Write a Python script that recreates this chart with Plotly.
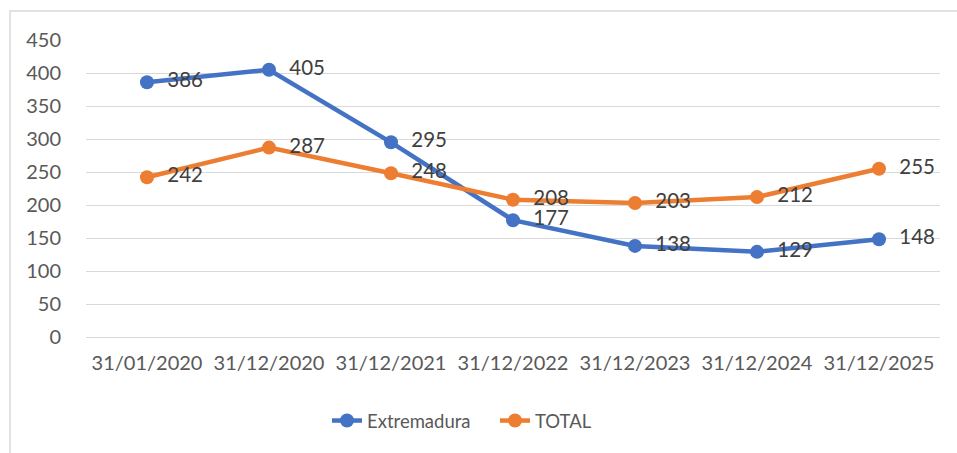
import plotly.graph_objects as go

categories = ["31/01/2020", "31/12/2020", "31/12/2021", "31/12/2022",
              "31/12/2023", "31/12/2024", "31/12/2025"]
extremadura = [386, 405, 295, 177, 138, 129, 148]
total = [242, 287, 248, 208, 203, 212, 255]
y_ticks = [0, 50, 100, 150, 200, 250, 300, 350, 400, 450]

BLUE = "#4472C4"
ORANGE = "#ED7D31"
FONT = "Lato, Carlito, Calibri, sans-serif"

fig = go.Figure()
for name, vals, col in [("Extremadura", extremadura, BLUE), ("TOTAL", total, ORANGE)]:
    fig.add_trace(go.Scatter(
        x=categories, y=vals, name=name, mode="lines+markers+text",
        line=dict(color=col, width=4.5),
        marker=dict(color=col, size=14),
        text=[f"  {v}" for v in vals], textposition="middle right",
        textfont=dict(family=FONT, size=20.5, color="#404040"),
        cliponaxis=False,
    ))

W, H = 957, 453
L, R, T, B = 86, 17, 40, 116
pw, ph = W - L - R, H - T - B

fig.add_shape(type="rect", xref="paper", yref="paper",
              x0=(10 - L) / pw, x1=2, y0=-2, y1=(H - B - 11) / ph,
              line=dict(color="#d9d9d9", width=1.5), layer="below")

fig.update_layout(
    width=W, height=H,
    margin=dict(l=L, r=R, t=T, b=B),
    paper_bgcolor="white", plot_bgcolor="white",
    font=dict(family=FONT, size=20, color="#595959"),
    showlegend=True,
    legend=dict(orientation="h", x=(495 - L) / pw, xanchor="center",
                y=-(421 - (H - B)) / ph, yanchor="middle",
                font=dict(size=18.5, color="#595959"),
                entrywidth=123, entrywidthmode="pixels",
                bgcolor="rgba(0,0,0,0)"),
    xaxis=dict(type="category", range=[-0.5, 6.5], showgrid=False,
               showline=False, ticks="outside", ticklen=8,
               tickcolor="rgba(0,0,0,0)",
               tickfont=dict(size=20, color="#595959")),
    yaxis=dict(range=[0, 450], tickvals=y_ticks, showgrid=True,
               gridcolor="#d9d9d9", gridwidth=1, zeroline=True,
               zerolinecolor="#d9d9d9", zerolinewidth=1, showline=False,
               ticks="outside", ticklen=20, tickcolor="rgba(0,0,0,0)",
               tickfont=dict(size=20, color="#595959")),
)

fig.write_html("out.html", config={"displayModeBar": False},
               post_script="document.body.style.margin='0';document.body.style.padding='0';")
